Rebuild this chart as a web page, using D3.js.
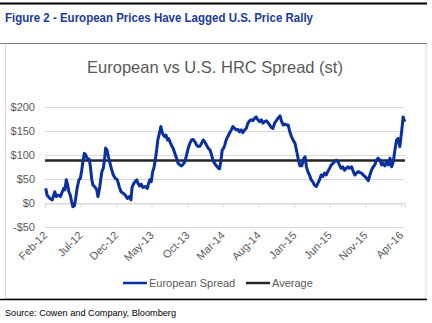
<!DOCTYPE html>
<html>
<head>
<meta charset="utf-8">
<script src="https://cdn.jsdelivr.net/npm/d3@7"></script>
<style>
  body { margin: 0; background: #fff; }
  svg { display: block; font-family: "Liberation Sans", Arial, sans-serif; }
</style>
</head>
<body>
<svg id="chart" width="432" height="323"></svg>
<script>
// weekly-ish readings of the European vs U.S. HRC spread ($/st)
const dates = [
  "2012-02-04","2012-02-10","2012-02-22","2012-03-03","2012-03-09","2012-03-14","2012-03-20","2012-03-28",
  "2012-04-07","2012-04-15","2012-04-21","2012-04-26","2012-05-02","2012-05-08","2012-05-13","2012-05-19",
  "2012-05-25","2012-05-30","2012-06-06","2012-06-11","2012-06-17","2012-06-25","2012-07-01","2012-07-07",
  "2012-07-12","2012-07-18","2012-07-24","2012-07-29","2012-08-08","2012-08-13","2012-08-19","2012-08-24",
  "2012-09-03","2012-09-09","2012-09-14","2012-09-20","2012-09-26","2012-10-01","2012-10-07","2012-10-12",
  "2012-10-17","2012-10-23","2012-10-29","2012-11-05","2012-11-10","2012-11-19","2012-11-27","2012-12-06",
  "2012-12-14","2012-12-22","2012-12-31","2013-01-09","2013-01-18","2013-01-26","2013-02-02","2013-02-07",
  "2013-02-15","2013-02-20","2013-02-27","2013-03-04","2013-03-11","2013-03-18","2013-03-25","2013-04-05",
  "2013-04-13","2013-04-19","2013-04-24","2013-04-30","2013-05-06","2013-05-11","2013-05-17","2013-05-23",
  "2013-05-28","2013-06-04","2013-06-10","2013-06-15","2013-06-21","2013-06-26","2013-07-02","2013-07-08",
  "2013-07-13","2013-07-19","2013-07-25","2013-08-01","2013-08-09","2013-08-16","2013-08-23","2013-08-30",
  "2013-09-07","2013-09-14","2013-09-21","2013-09-28","2013-10-05","2013-10-12","2013-10-19","2013-10-26",
  "2013-11-03","2013-11-10","2013-11-17","2013-11-24","2013-12-01","2013-12-08","2013-12-15","2013-12-22",
  "2013-12-29","2014-01-06","2014-01-13","2014-01-20","2014-01-27","2014-02-04","2014-02-11","2014-02-16",
  "2014-02-22","2014-02-27","2014-03-05","2014-03-10","2014-03-16","2014-03-23","2014-03-30","2014-04-07",
  "2014-04-14","2014-04-21","2014-04-28","2014-05-05","2014-05-12","2014-05-19","2014-05-26","2014-06-03",
  "2014-06-10","2014-06-17","2014-06-24","2014-07-01","2014-07-08","2014-07-15","2014-07-22","2014-07-29",
  "2014-08-06","2014-08-13","2014-08-20","2014-08-27","2014-09-04","2014-09-11","2014-09-18","2014-09-25",
  "2014-10-02","2014-10-09","2014-10-16","2014-10-23","2014-11-01","2014-11-08","2014-11-15","2014-11-22",
  "2014-11-29","2014-12-06","2014-12-13","2014-12-20","2014-12-27","2015-01-04","2015-01-11","2015-01-18",
  "2015-01-25","2015-02-02","2015-02-09","2015-02-16","2015-02-22","2015-02-28","2015-03-07","2015-03-14",
  "2015-03-21","2015-03-28","2015-04-05","2015-04-12","2015-04-19","2015-04-26","2015-05-03","2015-05-10",
  "2015-05-17","2015-05-24","2015-06-01","2015-06-08","2015-06-15","2015-06-22","2015-06-29","2015-07-06",
  "2015-07-13","2015-07-20","2015-07-27","2015-08-04","2015-08-11","2015-08-18","2015-08-25","2015-09-03",
  "2015-09-10","2015-09-17","2015-09-24","2015-10-01","2015-10-08","2015-10-15","2015-10-22","2015-10-29",
  "2015-11-06","2015-11-13","2015-11-20","2015-11-27","2015-12-04","2015-12-11","2015-12-18","2015-12-25",
  "2016-01-02","2016-01-09","2016-01-16","2016-01-23","2016-01-31","2016-02-07","2016-02-14","2016-02-21",
  "2016-02-28","2016-03-06","2016-03-13","2016-03-20","2016-03-27","2016-04-01","2016-04-06","2016-04-10",
  "2016-04-17"
];
const spread = [
  31,17,10,7,17,24,14,17,
  14,24,31,28,49,38,24,17,
  3,-7,-5,10,31,49,52,69,
  87,104,101,94,92,76,49,38,
  33,28,14,28,49,66,73,90,
  115,111,97,83,73,59,52,49,
  35,24,21,17,10,14,7,33,
  42,45,49,42,36,40,33,35,
  31,42,49,45,66,73,90,111,
  132,146,160,149,142,139,142,132,
  135,128,121,115,104,94,83,80,
  78,82,87,101,115,125,132,133,
  128,121,118,119,125,132,128,121,
  115,111,100,88,82,77,73,72,
  90,111,115,121,132,139,146,153,
  160,156,153,154,149,153,147,153,
  156,167,172,174,172,177,180,174,
  170,174,167,170,172,168,163,158,
  156,167,172,177,182,170,163,165,
  163,163,149,139,132,125,109,92,
  78,78,92,97,76,66,59,49,
  45,38,35,42,49,59,56,63,
  59,66,73,80,83,87,90,87,
  80,73,76,69,73,76,73,76,
  66,59,63,66,64,63,59,56,
  52,47,59,69,76,80,90,94,
  90,80,83,78,87,80,94,76,
  87,111,132,135,118,139,160,180,
  170
];
const average = 89;
const yTicks = [-50, 0, 50, 100, 150, 200];
const xTickDates = ["2012-02-01","2012-07-01","2012-12-01","2013-05-01","2013-10-01","2014-03-01",
  "2014-08-01","2015-01-01","2015-06-01","2015-11-01","2016-04-01"];
const legendItems = ["European Spread", "Average"];

const parse = d3.timeParse("%Y-%m-%d");
const series = dates.map((d, i) => ({date: parse(d), value: spread[i]}));
const tickDates = xTickDates.map(parse);

const svg = d3.select("#chart");
const blue = "#0a2f9e", dark = "#262626", grey = "#595959";

// page furniture
svg.append("line").attr("x1", 0).attr("x2", 427).attr("y1", 3.5).attr("y2", 3.5)
  .attr("stroke", "#000").attr("stroke-width", 2);
svg.append("text").attr("x", 5).attr("y", 22)
  .attr("font-weight", "bold").attr("font-size", 13).attr("fill", "#1b3a9a")
  .attr("textLength", 308).attr("lengthAdjust", "spacingAndGlyphs")
  .text("Figure 2 - European Prices Have Lagged U.S. Price Rally");
svg.append("rect").attr("x", 5.5).attr("y", 43.5).attr("width", 420.5).attr("height", 255)
  .attr("fill", "none").attr("stroke", "#d9d9d9");
svg.append("line").attr("x1", 0).attr("x2", 427).attr("y1", 43.5).attr("y2", 43.5)
  .attr("stroke", "#7f7f7f").attr("stroke-width", 1);
svg.append("line").attr("x1", 0).attr("x2", 427).attr("y1", 299.5).attr("y2", 299.5)
  .attr("stroke", "#000").attr("stroke-width", 1.5);
svg.append("text").attr("x", 5).attr("y", 316)
  .attr("font-size", 9.5).attr("fill", "#000")
  .attr("textLength", 171).attr("lengthAdjust", "spacingAndGlyphs")
  .text("Source: Cowen and Company, Bloomberg");

svg.append("text").attr("x", 215).attr("y", 73).attr("text-anchor", "middle")
  .attr("font-size", 16.5).attr("fill", grey)
  .text("European vs U.S. HRC Spread (st)");

const x = d3.scaleTime().domain([parse("2012-02-01"), parse("2016-04-18")]).range([45, 405]);
const y = d3.scaleLinear().domain([-50, 200]).range([227.3, 107.3]);

// gridlines
svg.append("g").selectAll("line").data(yTicks).join("line")
  .attr("x1", 45).attr("x2", 405)
  .attr("y1", d => Math.round(y(d)) + 0.5).attr("y2", d => Math.round(y(d)) + 0.5)
  .attr("stroke", "#d9d9d9").attr("stroke-width", 1);

// y labels
svg.append("g").selectAll("text").data(yTicks).join("text")
  .attr("x", 35).attr("y", d => y(d) + 4).attr("text-anchor", "end")
  .attr("font-size", 11).attr("fill", grey)
  .text(d => (d < 0 ? "-$" : "$") + Math.abs(d));

// x axis on the zero line, labels dropped to the bottom
const xAxis = svg.append("g").attr("transform", `translate(0,${Math.round(y(0)) + 0.5})`)
  .call(d3.axisBottom(x).tickValues(tickDates).tickSize(4).tickFormat(""));
xAxis.select(".domain").attr("stroke", "#d9d9d9");
xAxis.selectAll(".tick line").attr("stroke", "#d9d9d9");

svg.append("g").selectAll("text").data(tickDates).join("text")
  .attr("transform", d => `translate(${x(d) + 3},${236}) rotate(-45)`)
  .attr("text-anchor", "end").attr("font-size", 11).attr("fill", grey)
  .text(d3.timeFormat("%b-%y"));

// average and series
svg.append("line").attr("x1", 45).attr("x2", 405)
  .attr("y1", y(average)).attr("y2", y(average))
  .attr("stroke", dark).attr("stroke-width", 2.5);

const line = d3.line().x(d => x(d.date)).y(d => y(d.value));
svg.append("path").datum(series).attr("d", line)
  .attr("fill", "none").attr("stroke", blue).attr("stroke-width", 3)
  .attr("stroke-linejoin", "round");

// legend
const legend = svg.append("g").selectAll("g").data(legendItems).join("g")
  .attr("transform", (d, i) => `translate(${i === 0 ? 123 : 246},283)`);
legend.append("line").attr("x1", 0).attr("x2", 24)
  .attr("stroke", (d, i) => i === 0 ? blue : dark).attr("stroke-width", 2.5);
legend.append("text").attr("x", 26).attr("y", 4).attr("font-size", 11).attr("fill", grey)
  .text(d => d);
</script>
</body>
</html>
